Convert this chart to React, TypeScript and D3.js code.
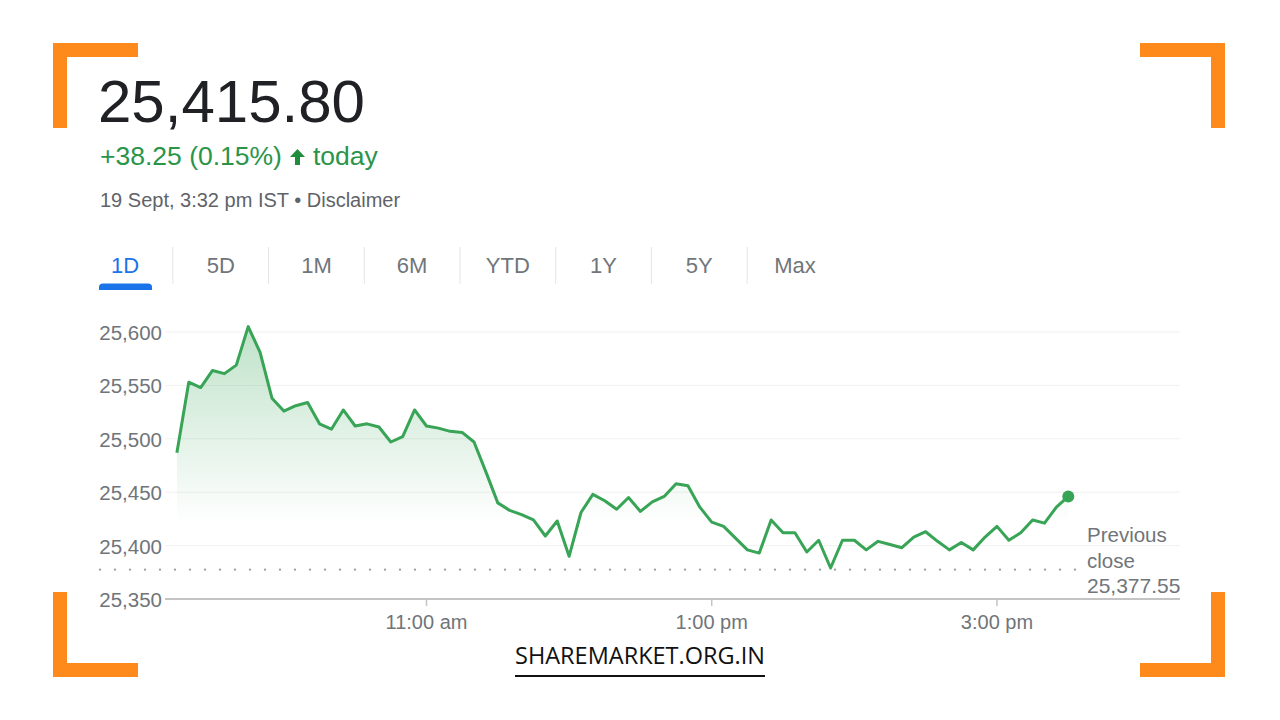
import React from "react";
import * as d3 from "d3";

// ---- data ----
const openTime = "09:15";
const intervalMinutes = 5;
const prices: number[] = [
  25487, 25553, 25548, 25564, 25561, 25569, 25605, 25581, 25538, 25526,
  25531, 25534, 25514, 25509, 25527, 25512, 25514, 25511, 25497, 25502,
  25527, 25512, 25510, 25507, 25506, 25497, 25469, 25440, 25433, 25429,
  25424, 25409, 25423, 25390, 25431, 25448, 25442, 25434, 25445, 25432,
  25441, 25446, 25458, 25456, 25436, 25422, 25418, 25407, 25396, 25393,
  25424, 25412, 25412, 25394, 25405, 25379, 25405, 25405, 25396, 25404,
  25401, 25398, 25408, 25413, 25404, 25396, 25403, 25396, 25408, 25418,
  25405, 25412, 25424, 25421, 25436, 25446,
];
const previousClose = 25377.55;
const yTicks = [25350, 25400, 25450, 25500, 25550, 25600];
const xTickTimes = ["11:00", "13:00", "15:00"];
const xTickLabels = ["11:00 am", "1:00 pm", "3:00 pm"];
const xDomainTimes = ["09:10", "16:17"];
const tabs = ["1D", "5D", "1M", "6M", "YTD", "1Y", "5Y", "Max"];
const headline = "25,415.80";
const changeText = "+38.25 (0.15%)";
const todayText = "today";
const dateLine = "19 Sept, 3:32 pm IST \u2022 Disclaimer";
const prevLabel = ["Previous", "close"];
const watermark = "SHAREMARKET.ORG.IN";

const toDate = (hm: string) => {
  const [h, m] = hm.split(":").map(Number);
  return new Date(2024, 8, 19, h, m);
};

const points = prices.map((v, i) => {
  const d = toDate(openTime);
  d.setMinutes(d.getMinutes() + i * intervalMinutes);
  return { t: d, v };
});

const FONT = "Arial, 'Liberation Sans', sans-serif";
const GREEN = "#37a456";
const GRAY_TEXT = "#70757a";
const ORANGE = "#ff8a1c";

export default function App() {
  const x = d3
    .scaleTime()
    .domain(xDomainTimes.map(toDate))
    .range([165, 1180]);
  const y = d3.scaleLinear().domain([25350, 25600]).range([599, 332]);

  const line = d3
    .line<{ t: Date; v: number }>()
    .x((d) => x(d.t))
    .y((d) => y(d.v));
  const area = d3
    .area<{ t: Date; v: number }>()
    .x((d) => x(d.t))
    .y0(y(25350))
    .y1((d) => y(d.v));

  const fmt = d3.format(",");
  const tabX = d3.scalePoint<string>().domain(tabs).range([125, 795]);
  const tabStep = tabX.step();
  const last = points[points.length - 1];
  const [x0, x1] = x.range();
  const t0 = tabX(tabs[0]) as number;

  return (
    <div style={{ position: "fixed", left: 0, top: 0, width: 1280, height: 720, background: "#fff" }}>
      <svg width={1280} height={720} style={{ display: "block" }}>
        <defs>
          <linearGradient id="fillGrad" gradientUnits="userSpaceOnUse" x1="0" y1={y(25605)} x2="0" y2={y(25420)}>
            <stop offset="0" stopColor={GREEN} stopOpacity={0.32} />
            <stop offset="1" stopColor={GREEN} stopOpacity={0} />
          </linearGradient>
        </defs>

        {/* orange corner brackets */}
        <g fill={ORANGE}>
          <rect x={53} y={43} width={85} height={14} />
          <rect x={53} y={43} width={14} height={85} />
          <rect x={1140} y={43} width={85} height={14} />
          <rect x={1211} y={43} width={14} height={85} />
          <rect x={53} y={663} width={85} height={14} />
          <rect x={53} y={592} width={14} height={85} />
          <rect x={1140} y={663} width={85} height={14} />
          <rect x={1211} y={592} width={14} height={85} />
        </g>

        {/* header */}
        <text x={98} y={122} fontFamily={FONT} fontSize={60} fill="#202124">
          {headline}
        </text>
        <text x={100} y={165} fontFamily={FONT} fontSize={26.5} fill="#2a9449">
          {changeText}
        </text>
        <path d="M297.5,149 L305,157 L300,157 L300,165 L295,165 L295,157 L290,157 Z" fill="#1e8e3e" />
        <text x={313} y={165} fontFamily={FONT} fontSize={26.5} fill="#2a9449">
          {todayText}
        </text>
        <text x={100} y={207} fontFamily={FONT} fontSize={20} fill="#5f6368">
          {dateLine}
        </text>

        {/* tabs */}
        {tabs.map((t, i) => (
          <g key={t}>
            <text
              x={tabX(t)}
              y={273}
              textAnchor="middle"
              fontFamily={FONT}
              fontSize={22}
              fill={i === 0 ? "#1a73e8" : GRAY_TEXT}
            >
              {t}
            </text>
            {i > 0 && (
              <line
                x1={(tabX(t) as number) - tabStep / 2}
                x2={(tabX(t) as number) - tabStep / 2}
                y1={247}
                y2={284}
                stroke="#e3e5e8"
                strokeWidth={1}
              />
            )}
          </g>
        ))}
        <path
          d={`M${t0 - 26},290 L${t0 - 26},287 Q${t0 - 26},283.5 ${t0 - 22},283.5 L${t0 + 23},283.5 Q${t0 + 27},283.5 ${t0 + 27},287 L${t0 + 27},290 Z`}
          fill="#1a73e8"
        />

        {/* gridlines */}
        {yTicks.slice(1).map((v) => (
          <line key={v} x1={x0} x2={x1} y1={y(v)} y2={y(v)} stroke="#f1f1f1" strokeWidth={1} />
        ))}

        {/* y labels */}
        {yTicks.map((v) => (
          <text
            key={v}
            x={162}
            y={y(v) + 8}
            textAnchor="end"
            fontFamily={FONT}
            fontSize={20.5}
            fill={GRAY_TEXT}
          >
            {fmt(v)}
          </text>
        ))}

        {/* area + line */}
        <path d={area(points) || ""} fill="url(#fillGrad)" />
        <line
          x1={100}
          x2={1086}
          y1={y(previousClose)}
          y2={y(previousClose)}
          stroke="#9aa0a6"
          strokeWidth={2.4}
          strokeDasharray="0 15"
          strokeLinecap="round"
        />
        <path d={line(points) || ""} fill="none" stroke={GREEN} strokeWidth={3} strokeLinejoin="round" />
        <circle cx={x(last.t)} cy={y(last.v)} r={6} fill={GREEN} />

        {/* x axis */}
        <line x1={x0} x2={x1} y1={y(25350)} y2={y(25350)} stroke="#c4c4c4" strokeWidth={2} />
        {xTickTimes.map((t, i) => (
          <g key={t}>
            <line x1={x(toDate(t))} x2={x(toDate(t))} y1={y(25350)} y2={y(25350) + 7} stroke="#c4c4c4" strokeWidth={1.5} />
            <text
              x={x(toDate(t))}
              y={629}
              textAnchor="middle"
              fontFamily={FONT}
              fontSize={20}
              fill={GRAY_TEXT}
            >
              {xTickLabels[i]}
            </text>
          </g>
        ))}

        {/* previous close label */}
        <text fontFamily={FONT} fontSize={20.5} fill={GRAY_TEXT}>
          <tspan x={1087} y={542}>{prevLabel[0]}</tspan>
          <tspan x={1087} y={568}>{prevLabel[1]}</tspan>
        </text>
        <text x={1087} y={593} fontFamily={FONT} fontSize={21} fill={GRAY_TEXT}>
          {d3.format(",.2f")(previousClose)}
        </text>

        {/* watermark */}
        <text
          x={640}
          y={664}
          textAnchor="middle"
          fontFamily="'Open Sans', 'Noto Sans', sans-serif"
          fontSize={23}
          fill="#111"
          textLength={250}
          lengthAdjust="spacingAndGlyphs"
        >
          {watermark}
        </text>
        <rect x={515} y={675} width={250} height={2} fill="#111" />
      </svg>
    </div>
  );
}
